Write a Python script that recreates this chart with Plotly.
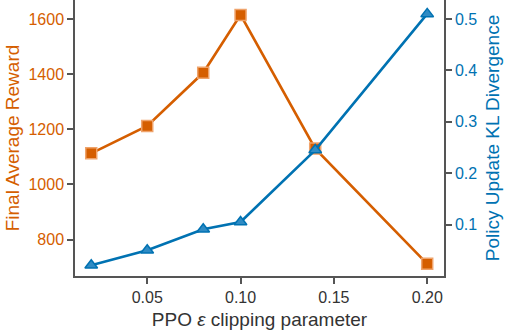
import plotly.graph_objects as go

eps = [0.02, 0.05, 0.08, 0.10, 0.14, 0.20]
reward = [1113, 1212, 1405, 1615, 1130, 712]
kl = [0.021, 0.050, 0.091, 0.105, 0.245, 0.510]

ORANGE = "#D55E00"
BLUE = "#0072B2"
FONT = "Liberation Sans, Arial, sans-serif"

fig = go.Figure()
fig.add_trace(go.Scatter(
    x=eps, y=reward, mode="lines+markers", yaxis="y",
    line=dict(color=ORANGE, width=2.6),
    marker=dict(symbol="square", size=11, color=ORANGE,
                line=dict(color="#EFA36B", width=1.5)),
    showlegend=False))
fig.add_trace(go.Scatter(
    x=eps, y=kl, mode="lines+markers", yaxis="y2",
    line=dict(color=BLUE, width=2.6),
    marker=dict(symbol="triangle-up", size=11, color="#2F8BC4",
                line=dict(color=BLUE, width=1.5)),
    showlegend=False))

axis_common = dict(showgrid=False, zeroline=False, showline=True,
                   linecolor="#555555", linewidth=1.5, ticks="outside",
                   ticklen=6, tickwidth=1.5, tickcolor="#555555",
                   automargin=False)

fig.update_layout(
    width=506, height=332,
    margin=dict(l=75, r=62, t=0, b=56),
    paper_bgcolor="white", plot_bgcolor="white",
    font=dict(family=FONT, size=16, color="#333333"),
    xaxis=dict(range=[0.0113, 0.209], tickvals=[0.05, 0.10, 0.15, 0.20],
               ticktext=["0.05", "0.10", "0.15", "0.20"],
               title=dict(text="PPO <i>ε</i> clipping parameter",
                          font=dict(size=19, color="#333333"), standoff=8),
               tickfont=dict(size=16, color="#333333"),
               **axis_common),
    yaxis=dict(range=[668, 1669], tickvals=[800, 1000, 1200, 1400, 1600],
               title=dict(text="Final Average Reward",
                          font=dict(size=19, color=ORANGE), standoff=4),
               tickfont=dict(size=16, color=ORANGE),
               **axis_common),
    yaxis2=dict(range=[0, 0.537], tickvals=[0.1, 0.2, 0.3, 0.4, 0.5],
                ticktext=["0.1", "0.2", "0.3", "0.4", "0.5"],
                overlaying="y", side="right",
                title=dict(text="Policy Update KL Divergence",
                           font=dict(size=19, color=BLUE), standoff=9),
                tickfont=dict(size=16, color=BLUE),
                **axis_common),
)

fig.write_html("out.html", config={"displayModeBar": False},
               post_script="document.body.style.margin='0';document.body.style.overflow='hidden';")
